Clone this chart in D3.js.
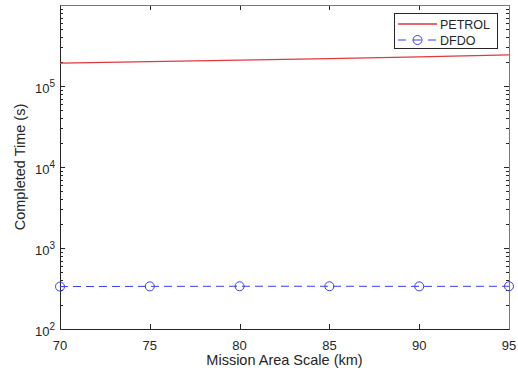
<!DOCTYPE html>
<html>
<head>
<meta charset="utf-8">
<script src="https://cdn.jsdelivr.net/npm/d3@7"></script>
<style>
    body { margin: 0; background: #fff; }
    #viz { width: 518px; height: 373px; }
    text { font-family: 'Liberation Sans', Arial, sans-serif; fill: #262626; }
</style>
</head>
<body>
<div id="viz"></div>
<script>
const areaScale = [70, 75, 80, 85, 90, 95];
const petrol = [192000, 200000, 209000, 218000, 229000, 242000];
const dfdo = [334, 336, 337, 337, 336, 337];
const xTicks = [70, 75, 80, 85, 90, 95];
const yDecades = [2, 3, 4, 5, 6];

const width = 518;
const height = 373;
const margin = { top: 5, right: 9, bottom: 44, left: 60 };

const svg = d3
    .select('#viz')
    .append('svg')
    .attr('width', width)
    .attr('height', height);

const xScale = d3.scaleLinear().domain([70, 95]).range([margin.left, width - margin.right]);
const yScale = d3.scaleLog().domain([1e2, 1e6]).range([height - margin.bottom, margin.top]);

const x0 = margin.left, x1 = width - margin.right;
const y0 = height - margin.bottom, y1 = margin.top;

// ticks, inside the box
const minorVals = [];
for (let e = 2; e < 6; e++) {
    for (let k = 2; k <= 9; k++) minorVals.push(k * Math.pow(10, e));
}
const tickG = svg.append('g').attr('stroke', '#262626').attr('stroke-width', 1);
minorVals.forEach((v) => {
    const y = Math.round(yScale(v)) + 0.5;
    tickG.append('line').attr('x1', x0).attr('x2', x0 + 3).attr('y1', y).attr('y2', y);
    tickG.append('line').attr('x1', x1).attr('x2', x1 - 3).attr('y1', y).attr('y2', y);
});
yDecades.forEach((e) => {
    const y = Math.round(yScale(Math.pow(10, e))) + 0.5;
    tickG.append('line').attr('x1', x0).attr('x2', x0 + 5).attr('y1', y).attr('y2', y);
    tickG.append('line').attr('x1', x1).attr('x2', x1 - 5).attr('y1', y).attr('y2', y);
});
xTicks.forEach((t) => {
    const x = Math.round(xScale(t)) + 0.5;
    tickG.append('line').attr('x1', x).attr('x2', x).attr('y1', y0).attr('y2', y0 - 5);
    tickG.append('line').attr('x1', x).attr('x2', x).attr('y1', y1).attr('y2', y1 + 5);
});

// box
svg.append('rect')
    .attr('x', x0 + 0.5).attr('y', y1 + 0.5)
    .attr('width', x1 - x0).attr('height', y0 - y1)
    .attr('fill', 'none').attr('stroke', '#7a7a7a');
svg.append('path')
    .attr('d', `M${x0 + 0.5},${y1 + 0.5}V${y0 + 0.5}H${x1 + 0.5}`)
    .attr('fill', 'none').attr('stroke', '#262626');

// x tick labels
svg.append('g')
    .selectAll('text')
    .data(xTicks)
    .join('text')
    .attr('x', (d) => xScale(d))
    .attr('y', y0 + 21)
    .attr('text-anchor', 'middle')
    .attr('font-size', 13)
    .text((d) => d);

// y tick labels 10^n
const yLab = svg.append('g')
    .selectAll('text')
    .data(yDecades.filter((d) => d < 6))
    .join('text')
    .attr('x', x0 - 5)
    .attr('y', (d) => yScale(Math.pow(10, d)) + 7)
    .attr('text-anchor', 'end')
    .attr('font-size', 13);
yLab.append('tspan').text('10');
yLab.append('tspan').attr('dy', -6).attr('font-size', 10).text((d) => d);

// axis titles
svg.append('text')
    .attr('x', (x0 + x1) / 2)
    .attr('y', height - 8)
    .attr('text-anchor', 'middle')
    .attr('font-size', 14.5)
    .text('Mission Area Scale (km)');
svg.append('text')
    .attr('transform', `translate(25,${(y0 + y1) / 2}) rotate(-90)`)
    .attr('text-anchor', 'middle')
    .attr('font-size', 14.5)
    .text('Completed Time (s)');

// series
const red = '#e0393e';
const blue = '#3c3cf0';
const line = d3.line().x((d) => xScale(d[0])).y((d) => yScale(d[1]));

svg.append('path')
    .datum(areaScale.map((d, i) => [d, petrol[i]]))
    .attr('d', line)
    .attr('fill', 'none')
    .attr('stroke', red)
    .attr('stroke-width', 1.3);

const dfdoPts = areaScale.map((d, i) => [d, dfdo[i]]);
svg.append('path')
    .datum(dfdoPts)
    .attr('d', line)
    .attr('fill', 'none')
    .attr('stroke', blue)
    .attr('stroke-width', 1)
    .attr('stroke-dasharray', '8,5');
svg.append('g')
    .selectAll('circle')
    .data(dfdoPts)
    .join('circle')
    .attr('cx', (d) => xScale(d[0]))
    .attr('cy', (d) => yScale(d[1]))
    .attr('r', 4.5)
    .attr('fill', 'none')
    .attr('stroke', blue)
    .attr('stroke-width', 1);

// legend
const legend = svg.append('g').attr('transform', 'translate(394,13)');
legend.append('rect')
    .attr('x', 0.5).attr('y', 0.5)
    .attr('width', 103).attr('height', 35)
    .attr('fill', '#fff').attr('stroke', '#262626');
legend.append('line')
    .attr('x1', 4).attr('x2', 43).attr('y1', 11).attr('y2', 11)
    .attr('stroke', red).attr('stroke-width', 1.3);
legend.append('line')
    .attr('x1', 4).attr('x2', 43).attr('y1', 27).attr('y2', 27)
    .attr('stroke', blue).attr('stroke-dasharray', '8,7');
legend.append('circle')
    .attr('cx', 23.5).attr('cy', 27).attr('r', 4.5)
    .attr('fill', 'none').attr('stroke', blue);
legend.selectAll('text.lab')
    .data(['PETROL', 'DFDO'])
    .join('text')
    .attr('x', 46)
    .attr('y', (d, i) => 15.5 + i * 16)
    .attr('font-size', 12.5)
    .text((d) => d);
</script>
</body>
</html>
